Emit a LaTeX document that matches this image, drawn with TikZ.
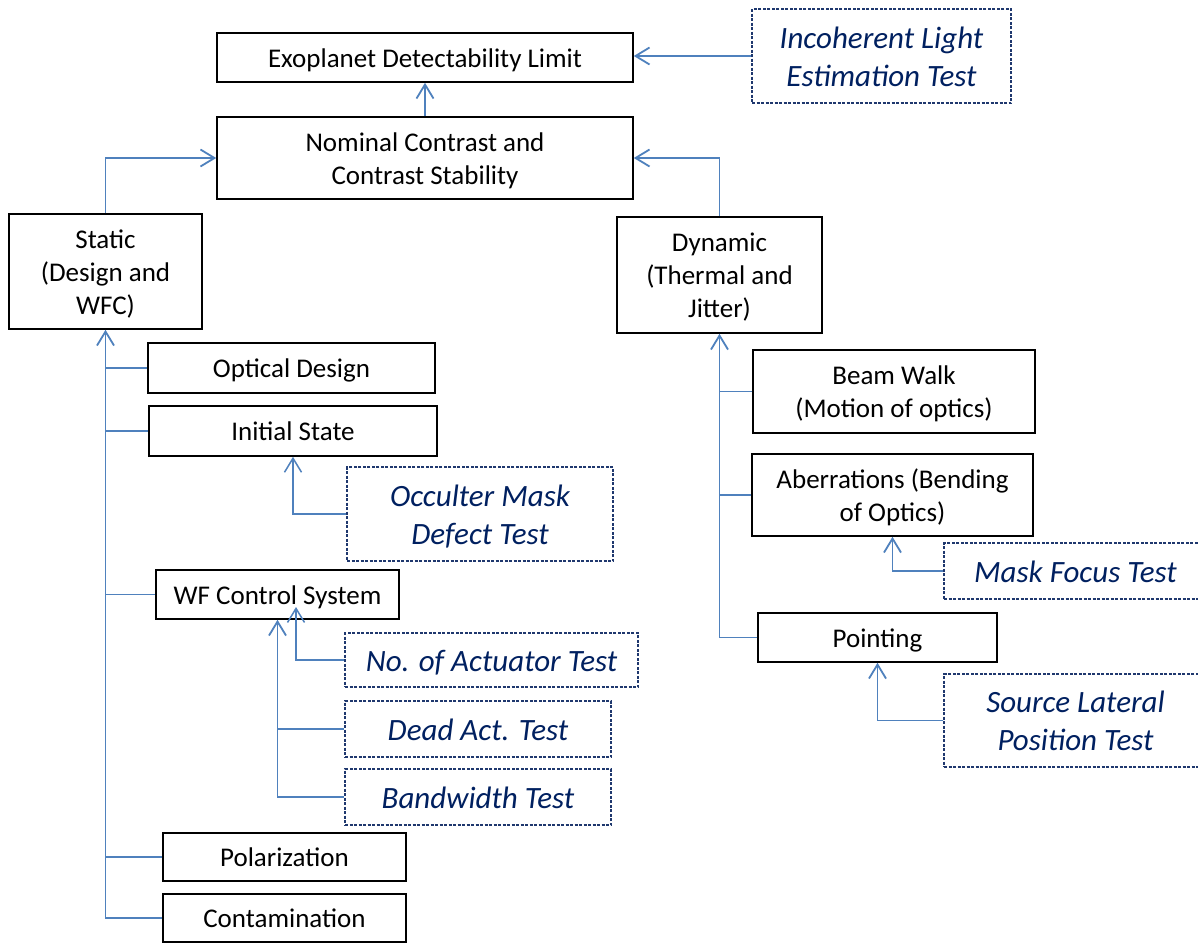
\documentclass[tikz,border=0pt]{standalone}
\usepackage{fontspec}
\setmainfont{Carlito}
\usetikzlibrary{arrows.meta}
\definecolor{conn}{RGB}{79,129,189}
\definecolor{navy}{RGB}{0,32,96}
\definecolor{navyline}{RGB}{31,56,110}
\newcommand{\ws}{\rule[-0.25em]{0pt}{1.22em}}
\tikzset{
  box/.style={draw=black, line width=1.6pt, fill=white, inner sep=0pt, align=center,
    font=\fontsize{27}{33}\selectfont},
  testbox/.style={draw=navyline, line width=1.3pt, dash pattern=on 3pt off 1.5pt, fill=white,
    inner sep=0pt, align=center, text=navy, font=\fontsize{31}{38}\selectfont\itshape},
  link/.style={draw=conn, line width=1.8pt},
  arr/.style={link, -{Straight Barb[length=14pt,width=17pt,line width=1.8pt]}},
  thinarr/.style={draw=conn, line width=1.5pt, -{Straight Barb[length=14pt,width=17pt,line width=1.5pt]}}
}
\begin{document}
\begin{tikzpicture}[x=1pt,y=-1pt]
\clip (0,0) rectangle (1198,945);
\fill[white] (0,0) rectangle (1198,945);
% top
\node[box, minimum width=416pt, minimum height=49pt] (exo) at (425,57.5) {\ws Exoplanet Detectability Limit};
\node[box, minimum width=416pt, minimum height=82pt] (nom) at (425,158) {\ws Nominal Contrast and\\\ws Contrast Stability};
\node[testbox, minimum width=259pt, minimum height=94pt] (inc) at (881.5,56) {\ws Incoherent Light\\\ws Estimation Test};
% static side
\node[box, minimum width=193pt, minimum height=115pt] (static) at (105.5,271.5) {\ws Static\\\ws (Design and\\\ws WFC)};
\node[box, minimum width=287pt, minimum height=50pt] (opt) at (291.5,368) {\ws Optical Design};
\node[box, minimum width=288pt, minimum height=50pt] (init) at (293,431) {\ws Initial State};
\node[testbox, minimum width=266pt, minimum height=94pt] (occ) at (480,514) {\ws Occulter Mask\\\ws Defect Test};
\node[box, minimum width=243pt, minimum height=49pt] (wf) at (277.5,594.5) {\ws WF Control System};
\node[testbox, minimum width=293pt, minimum height=54pt] (noact) at (491.5,660) {\ws No. of Actuator Test};
\node[testbox, minimum width=266pt, minimum height=56pt] (dead) at (478,729) {\ws Dead Act. Test};
\node[testbox, minimum width=266pt, minimum height=56pt] (bw) at (478,797) {\ws Bandwidth Test};
\node[box, minimum width=243pt, minimum height=48pt] (pol) at (284.5,857) {\ws Polarization};
\node[box, minimum width=243pt, minimum height=48pt] (cont) at (284.5,918) {\ws Contamination};
% dynamic side
\node[box, minimum width=205pt, minimum height=116pt] (dyn) at (719.5,275) {\ws Dynamic\\\ws (Thermal and\\\ws Jitter)};
\node[box, minimum width=282pt, minimum height=83pt] (beam) at (894,391.5) {\ws Beam Walk\\\ws (Motion of optics)};
\node[box, minimum width=281pt, minimum height=82pt] (aber) at (892.5,495) {\ws Aberrations (Bending\\\ws of Optics)};
\node[testbox, minimum width=263pt, minimum height=56pt] (mask) at (1075.5,571) {\ws Mask Focus Test};
\node[box, minimum width=239pt, minimum height=49pt] (point) at (877.5,637.5) {\ws Pointing};
\node[testbox, minimum width=263pt, minimum height=93pt] (src) at (1075.5,720.5) {\ws Source Lateral\\\ws Position Test};
\coordinate (wfin) at (296,607);
% connectors
\draw[arr] (nom.north) -- (exo.south);
\draw[arr] (inc.west) -- (inc.west -| exo.east);
\draw[arr] (static.north) |- (nom.west);
\draw[arr] (dyn.north) |- (nom.east);
\draw[arr] (cont.west) -| (static.south);
\draw[link] (opt.west) -- (opt.west -| static.south);
\draw[link] (init.west) -- (init.west -| static.south);
\draw[link] (wf.west) -- (wf.west -| static.south);
\draw[link] (pol.west) -- (pol.west -| static.south);
\draw[thinarr] (occ.west) -| (init.south);
\draw[arr] (bw.west) -| (wf.south);
\draw[link] (dead.west) -- (dead.west -| wf.south);
\draw[thinarr] (noact.west) -| (wfin);
\draw[arr] (point.west) -| (dyn.south);
\draw[link] (beam.west) -- (beam.west -| dyn.south);
\draw[link] (aber.west) -- (aber.west -| dyn.south);
\draw[arr] (mask.west) -| (aber.south);
\draw[arr] (src.west) -| (point.south);
\end{tikzpicture}
\end{document}
